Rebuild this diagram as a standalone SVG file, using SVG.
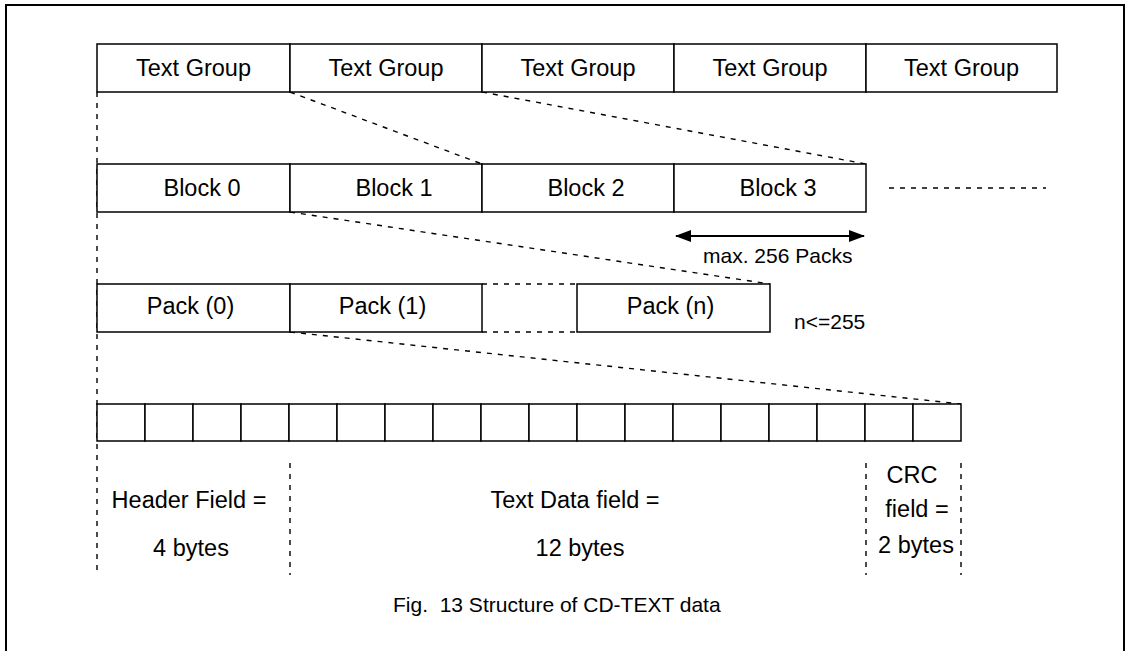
<svg xmlns="http://www.w3.org/2000/svg" width="1126" height="651" viewBox="0 0 1126 651">
<style>
.box{fill:#fff;stroke:#000;stroke-width:1.5}
.dash{fill:none;stroke:#000;stroke-width:1.4;stroke-dasharray:5 6}
.t{font-family:"Liberation Sans",Arial,sans-serif;font-size:23.5px;fill:#000;text-anchor:middle}
.s{font-family:"Liberation Sans",Arial,sans-serif;font-size:21px;fill:#000;white-space:pre}
</style>
<defs>
<marker id="ah" viewBox="0 0 16 12" refX="15" refY="6" markerWidth="16" markerHeight="12" markerUnits="userSpaceOnUse" orient="auto-start-reverse">
<path d="M0,0 L16,6 L0,12 Z" fill="#000"/>
</marker>
</defs>
<rect width="1126" height="651" fill="#fff"/>
<path d="M6,651 V5 H1124 V651" fill="none" stroke="#000" stroke-width="2"/>

<g id="connectors">
<line class="dash" x1="97" y1="92" x2="97" y2="575"/>
<line class="dash" x1="290" y1="463" x2="290" y2="575"/>
<line class="dash" x1="866" y1="463" x2="866" y2="575"/>
<line class="dash" x1="961" y1="463" x2="961" y2="575"/>
<line class="dash" x1="290" y1="92" x2="482" y2="164"/>
<line class="dash" x1="482" y1="92" x2="866" y2="164"/>
<line class="dash" x1="290" y1="212" x2="770" y2="284"/>
<line class="dash" x1="290" y1="332" x2="961" y2="404"/>
<line class="dash" x1="889" y1="188" x2="1046" y2="188"/>
<line class="dash" x1="482" y1="284" x2="577" y2="284"/>
<line class="dash" x1="482" y1="332" x2="577" y2="332"/>
<line x1="676" y1="236" x2="864" y2="236" stroke="#000" stroke-width="2" marker-start="url(#ah)" marker-end="url(#ah)"/>
</g>

<g id="textgroups">
<g id="tg0"><rect class="box" x="97" y="44" width="193" height="48"/><text class="t" x="193.5" y="76">Text Group</text></g>
<g id="tg1"><rect class="box" x="290" y="44" width="192" height="48"/><text class="t" x="386" y="76">Text Group</text></g>
<g id="tg2"><rect class="box" x="482" y="44" width="192" height="48"/><text class="t" x="578" y="76">Text Group</text></g>
<g id="tg3"><rect class="box" x="674" y="44" width="192" height="48"/><text class="t" x="770" y="76">Text Group</text></g>
<g id="tg4"><rect class="box" x="866" y="44" width="191" height="48"/><text class="t" x="961.5" y="76">Text Group</text></g>
</g>

<g id="blocks">
<g id="block0"><rect class="box" x="97" y="164" width="193" height="48"/><text class="t" x="202" y="196">Block 0</text></g>
<g id="block1"><rect class="box" x="290" y="164" width="192" height="48"/><text class="t" x="394" y="196">Block 1</text></g>
<g id="block2"><rect class="box" x="482" y="164" width="192" height="48"/><text class="t" x="586" y="196">Block 2</text></g>
<g id="block3"><rect class="box" x="674" y="164" width="192" height="48"/><text class="t" x="778" y="196">Block 3</text></g>
</g>

<g id="packs">
<g id="pack0"><rect class="box" x="97" y="284" width="193" height="48"/><text class="t" x="190.5" y="314">Pack (0)</text></g>
<g id="pack1"><rect class="box" x="290" y="284" width="192" height="48"/><text class="t" x="382.5" y="314">Pack (1)</text></g>
<g id="packn"><rect class="box" x="577" y="284" width="193" height="48"/><text class="t" x="670.5" y="314">Pack (n)</text></g>
</g>

<g id="bytes">
<rect class="box" x="97" y="404" width="48" height="37"/>
<rect class="box" x="145" y="404" width="48" height="37"/>
<rect class="box" x="193" y="404" width="48" height="37"/>
<rect class="box" x="241" y="404" width="48" height="37"/>
<rect class="box" x="289" y="404" width="48" height="37"/>
<rect class="box" x="337" y="404" width="48" height="37"/>
<rect class="box" x="385" y="404" width="48" height="37"/>
<rect class="box" x="433" y="404" width="48" height="37"/>
<rect class="box" x="481" y="404" width="48" height="37"/>
<rect class="box" x="529" y="404" width="48" height="37"/>
<rect class="box" x="577" y="404" width="48" height="37"/>
<rect class="box" x="625" y="404" width="48" height="37"/>
<rect class="box" x="673" y="404" width="48" height="37"/>
<rect class="box" x="721" y="404" width="48" height="37"/>
<rect class="box" x="769" y="404" width="48" height="37"/>
<rect class="box" x="817" y="404" width="48" height="37"/>
<rect class="box" x="865" y="404" width="48" height="37"/>
<rect class="box" x="913" y="404" width="48" height="37"/>
</g>

<g id="labels">
<text class="s" x="703" y="263">max. 256 Packs</text>
<text class="s" x="794" y="329">n&lt;=255</text>
<text class="t" x="189" y="508">Header Field =</text>
<text class="t" x="191" y="556">4 bytes</text>
<text class="t" x="575" y="508">Text Data field =</text>
<text class="t" x="580" y="556">12 bytes</text>
<text class="t" x="912" y="483">CRC</text>
<text class="t" x="917" y="517">field =</text>
<text class="t" x="916" y="553">2 bytes</text>
<text class="s" x="393" y="612" xml:space="preserve">Fig.  13 Structure of CD-TEXT data</text>
</g>
</svg>
